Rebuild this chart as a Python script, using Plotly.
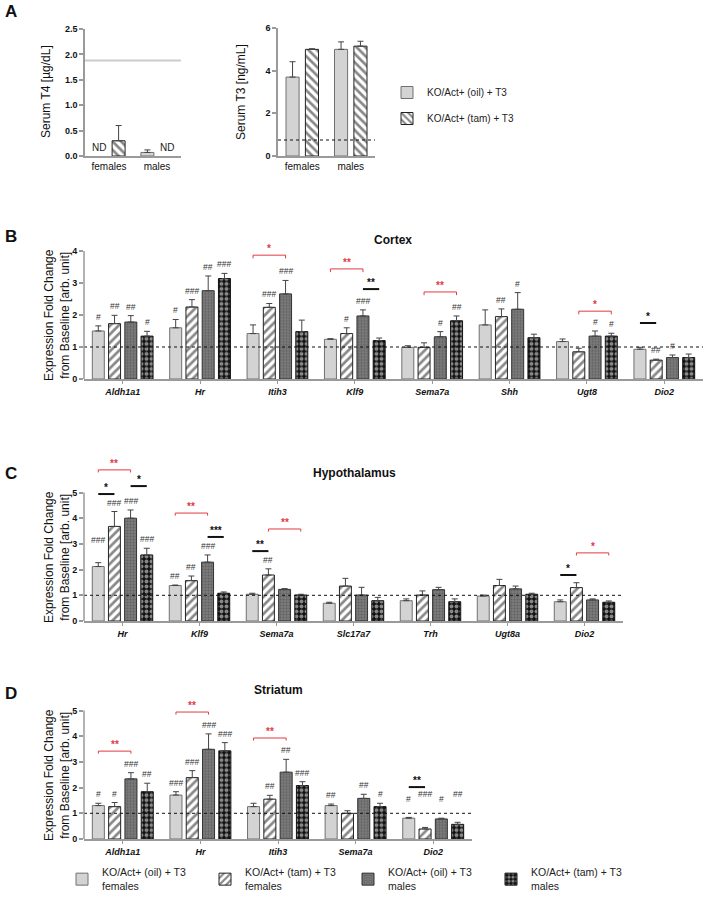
import plotly.graph_objects as go

W, H = 704, 900
FONT = "Arial, 'Liberation Sans', Helvetica, sans-serif"

# ---------------- Panel A data (serum hormones) ----------------
a_sex = ["females", "males"]
t4_oil = [None, 0.07]
t4_oil_sem = [0.0, 0.05]
t4_tam = [0.30, None]
t4_tam_sem = [0.30, 0.0]
t4_ref = 1.88
t3_oil = [3.70, 5.00]
t3_oil_sem = [0.72, 0.35]
t3_tam = [5.00, 5.15]
t3_tam_sem = [0.03, 0.23]
t3_ref = 0.75
a_names = ["KO/Act+ (oil) + T3", "KO/Act+ (tam) + T3"]

group_names = ["KO/Act+ (oil) + T3<br>females", "KO/Act+ (tam) + T3<br>females",
               "KO/Act+ (oil) + T3<br>males", "KO/Act+ (tam) + T3<br>males"]

# ---------------- Panel B: Cortex ----------------
b_genes = ["Aldh1a1", "Hr", "Itih3", "Klf9", "Sema7a", "Shh", "Ugt8", "Dio2"]
b_oil_f = [1.50, 1.60, 1.42, 1.24, 0.99, 1.69, 1.17, 0.93]
b_tam_f = [1.73, 2.25, 2.24, 1.42, 0.99, 1.95, 0.85, 0.59]
b_oil_m = [1.78, 2.76, 2.66, 1.97, 1.32, 2.18, 1.34, 0.67]
b_tam_m = [1.34, 3.14, 1.48, 1.20, 1.82, 1.29, 1.34, 0.67]
b_oil_f_sem = [0.16, 0.26, 0.27, 0.02, 0.05, 0.47, 0.08, 0.06]
b_tam_f_sem = [0.26, 0.23, 0.12, 0.18, 0.14, 0.24, 0.11, 0.03]
b_oil_m_sem = [0.20, 0.46, 0.42, 0.19, 0.16, 0.52, 0.16, 0.08]
b_tam_m_sem = [0.15, 0.16, 0.36, 0.08, 0.15, 0.11, 0.09, 0.11]
b_oil_f_sig = ["#", "#", "", "", "", "", "", ""]
b_tam_f_sig = ["##", "###", "###", "#", "", "##", "", "##"]
b_oil_m_sig = ["##", "##", "###", "###", "#", "#", "#", "#"]
b_tam_m_sig = ["#", "###", "", "", "##", "", "#", ""]
# (gene index, group i, group j, level, stars, red bracket?)
b_comparisons = [(2, 0, 2, 3.87, "*", True), (3, 0, 2, 3.44, "**", True),
                 (3, 2, 3, 2.81, "**", False), (4, 1, 3, 2.72, "**", True),
                 (6, 1, 3, 2.12, "*", True), (7, 0, 1, 1.75, "*", False)]

# ---------------- Panel C: Hypothalamus ----------------
c_genes = ["Hr", "Klf9", "Sema7a", "Slc17a7", "Trh", "Ugt8a", "Dio2"]
c_oil_f = [2.12, 1.38, 1.04, 0.69, 0.79, 0.97, 0.75]
c_tam_f = [3.68, 1.57, 1.79, 1.36, 1.01, 1.38, 1.30]
c_oil_m = [4.00, 2.29, 1.23, 1.01, 1.22, 1.25, 0.82]
c_tam_m = [2.57, 1.08, 1.01, 0.79, 0.75, 1.04, 0.73]
c_oil_f_sem = [0.15, 0.02, 0.04, 0.04, 0.07, 0.04, 0.07]
c_tam_f_sem = [0.58, 0.18, 0.24, 0.30, 0.16, 0.24, 0.19]
c_oil_m_sem = [0.32, 0.28, 0.03, 0.30, 0.09, 0.11, 0.04]
c_tam_m_sem = [0.26, 0.05, 0.03, 0.13, 0.11, 0.04, 0.05]
c_oil_f_sig = ["###", "##", "", "", "", "", ""]
c_tam_f_sig = ["###", "##", "##", "", "", "", ""]
c_oil_m_sig = ["###", "###", "", "", "", "", ""]
c_tam_m_sig = ["###", "", "", "", "", "", ""]
c_comparisons = [(0, 0, 1, 4.94, "*", False), (0, 2, 3, 5.25, "*", False),
                 (0, 0, 2, 5.88, "**", True), (1, 2, 3, 3.27, "***", False),
                 (1, 0, 2, 4.20, "**", True), (2, 0, 1, 2.72, "**", False),
                 (2, 1, 3, 3.58, "**", True), (6, 0, 1, 1.79, "*", False),
                 (6, 1, 3, 2.65, "*", True)]
c_sig_level = {(0, 0): 2.8}

# ---------------- Panel D: Striatum ----------------
d_genes = ["Aldh1a1", "Hr", "Itih3", "Sema7a", "Dio2"]
d_oil_f = [1.30, 1.71, 1.26, 1.30, 0.81]
d_tam_f = [1.26, 2.39, 1.55, 1.00, 0.39]
d_oil_m = [2.34, 3.49, 2.60, 1.58, 0.78]
d_tam_m = [1.84, 3.43, 2.08, 1.26, 0.57]
d_oil_f_sem = [0.09, 0.13, 0.13, 0.06, 0.03]
d_tam_f_sem = [0.16, 0.27, 0.15, 0.10, 0.06]
d_oil_m_sem = [0.24, 0.60, 0.50, 0.16, 0.03]
d_tam_m_sem = [0.33, 0.32, 0.15, 0.13, 0.08]
d_oil_f_sig = ["#", "###", "", "##", "#"]
d_tam_f_sig = ["#", "###", "##", "", "###"]
d_oil_m_sig = ["###", "###", "##", "##", "#"]
d_tam_m_sig = ["##", "###", "###", "#", "##"]
d_comparisons = [(0, 0, 2, 3.42, "**", True), (1, 0, 2, 4.94, "**", True),
                 (2, 0, 2, 3.93, "**", True), (4, 0, 1, 2.02, "**", False)]
d_sig_level = {(4, 0): 1.2, (4, 1): 1.4, (4, 2): 1.2, (4, 3): 1.4}

# ---------------- styling ----------------
OFFS = [-0.315, -0.105, 0.105, 0.315]
BW = 0.155
AXC = "#9a9a9a"
RED = "#e23a3f"
STYLES = [
    dict(color="#d3d3d3", line=dict(color="#707070", width=1)),
    dict(color="white", line=dict(color="#222", width=1),
         pattern=dict(shape="/", fgcolor="#111", bgcolor="white", size=6, solidity=0.45)),
    dict(color="#777", line=dict(color="#333", width=1),
         pattern=dict(shape=".", fgcolor="#444", bgcolor="#7b7b7b", size=3, solidity=0.35)),
    dict(color="#111", line=dict(color="#111", width=1),
         pattern=dict(shape=".", fgcolor="white", bgcolor="#111", size=5, solidity=0.5)),
]


def px_x(p):
    return p / W


def px_y(p):
    return 1 - p / H


fig = go.Figure()
annotations = []
shapes = []


def text(x, y, t, size=12, bold=False, angle=0, color="#111", xanchor="center", yanchor="middle"):
    annotations.append(dict(x=px_x(x), y=px_y(y), xref="paper", yref="paper", text=(f"<b>{t}</b>" if bold else t),
                            showarrow=False, textangle=angle, xanchor=xanchor, yanchor=yanchor,
                            font=dict(size=size, color=color, family=FONT)))


def panel(ax, genes, vals, sems, sigs, comps, sig_level, legend, yticks):
    xa, ya = "x" + ax, "y" + ax
    n = len(genes)
    for k in range(4):
        fig.add_trace(go.Bar(
            x=[g + OFFS[k] for g in range(n)], y=vals[k], width=BW, xaxis=xa, yaxis=ya,
            marker=STYLES[k], name=group_names[k], showlegend=legend, legend="legend",
            error_y=dict(type="data", array=sems[k], arrayminus=[0] * n, symmetric=False,
                         color="#444", thickness=1, width=3)))
        for g in range(n):
            if sigs[k][g]:
                yv = sig_level.get((g, k), vals[k][g] + sems[k][g])
                annotations.append(dict(x=g + OFFS[k], y=yv, xref=xa, yref=ya, text=sigs[k][g],
                                        showarrow=False, yanchor="bottom", yshift=2,
                                        font=dict(size=8.5, color="#333", family=FONT)))
    for g, i, j, lev, stars, red in comps:
        x0, x1 = g + OFFS[i], g + OFFS[j]
        if red:
            shapes.append(dict(type="path", xref=xa, yref=ya,
                               path=f"M{x0},{lev - 0.1} L{x0},{lev} L{x1},{lev} L{x1},{lev - 0.1}",
                               line=dict(color=RED, width=1)))
        else:
            shapes.append(dict(type="line", xref=xa, yref=ya, x0=x0, x1=x1, y0=lev, y1=lev,
                               line=dict(color="#111", width=2)))
        annotations.append(dict(x=(x0 + x1) / 2, y=lev, xref=xa, yref=ya, text=f"<b>{stars}</b>",
                                showarrow=False, yanchor="bottom", yshift=-1,
                                font=dict(size=10, color=RED if red else "#111", family=FONT)))
    # baseline dotted line
    shapes.append(dict(type="line", xref=xa + " domain", yref=ya, x0=0, x1=1, y0=1, y1=1,
                       line=dict(color="#111", width=1, dash="dot")))
    # y axis line up to top tick
    shapes.append(dict(type="line", xref=xa + " domain", yref=ya, x0=0, x1=0, y0=0, y1=yticks[-1],
                       line=dict(color=AXC, width=1.5)))


panel("3", b_genes, [b_oil_f, b_tam_f, b_oil_m, b_tam_m],
      [b_oil_f_sem, b_tam_f_sem, b_oil_m_sem, b_tam_m_sem],
      [b_oil_f_sig, b_tam_f_sig, b_oil_m_sig, b_tam_m_sig], b_comparisons, {}, True, [0, 1, 2, 3, 4])
panel("4", c_genes, [c_oil_f, c_tam_f, c_oil_m, c_tam_m],
      [c_oil_f_sem, c_tam_f_sem, c_oil_m_sem, c_tam_m_sem],
      [c_oil_f_sig, c_tam_f_sig, c_oil_m_sig, c_tam_m_sig], c_comparisons, c_sig_level, False,
      [0, 1, 2, 3, 4, 5])
panel("5", d_genes, [d_oil_f, d_tam_f, d_oil_m, d_tam_m],
      [d_oil_f_sem, d_tam_f_sem, d_oil_m_sem, d_tam_m_sem],
      [d_oil_f_sig, d_tam_f_sig, d_oil_m_sig, d_tam_m_sig], d_comparisons, d_sig_level, False,
      [0, 1, 2, 3, 4, 5])

# ---------------- Panel A traces ----------------
A_STYLES = [
    dict(color="#d3d3d3", line=dict(color="#707070", width=1)),
    dict(color="white", line=dict(color="#222", width=1),
         pattern=dict(shape="\\", fgcolor="#111", bgcolor="white", size=6, solidity=0.45)),
]
AOFF = [-0.2, 0.2]
ABW = 0.27
for k, (v, s) in enumerate([(t4_oil, t4_oil_sem), (t4_tam, t4_tam_sem)]):
    fig.add_trace(go.Bar(x=[g + AOFF[k] for g in range(2)], y=v, width=ABW, xaxis="x", yaxis="y",
                         marker=A_STYLES[k], showlegend=False,
                         error_y=dict(type="data", array=s, arrayminus=[0, 0], symmetric=False,
                                      color="#444", thickness=1, width=3)))
for k, (v, s) in enumerate([(t3_oil, t3_oil_sem), (t3_tam, t3_tam_sem)]):
    fig.add_trace(go.Bar(x=[g + AOFF[k] for g in range(2)], y=v, width=ABW, xaxis="x2", yaxis="y2",
                         marker=A_STYLES[k], name=a_names[k], showlegend=True, legend="legend2",
                         legendgroup=f"a{k}",
                         error_y=dict(type="data", array=s, arrayminus=[0, 0], symmetric=False,
                                      color="#444", thickness=1, width=3)))
# ND labels where no value
for k, v in enumerate([t4_oil, t4_tam]):
    for g in range(2):
        if v[g] is None:
            annotations.append(dict(x=g + AOFF[k], y=0, xref="x", yref="y", text="ND", showarrow=False,
                                    yanchor="bottom", yshift=1, font=dict(size=10, color="#222", family=FONT)))
shapes.append(dict(type="line", xref="x domain", yref="y", x0=0, x1=1, y0=t4_ref, y1=t4_ref,
                   line=dict(color="#cccccc", width=2)))
shapes.append(dict(type="line", xref="x2 domain", yref="y2", x0=0, x1=1, y0=t3_ref, y1=t3_ref,
                   line=dict(color="#111", width=1, dash="dot")))

# ---------------- axes ----------------
tickfont = dict(size=9, color="#111", family=FONT, weight="bold")


def xaxis(dom, n, labels, italic=True):
    return dict(domain=[px_x(dom[0]), px_x(dom[1])], range=[-0.5, n - 0.5], tickmode="array",
                tickvals=list(range(n)),
                ticktext=[f"<b><i>{t}</i></b>" for t in labels] if italic else labels,
                showline=True, linecolor=AXC, linewidth=1.5, ticks="outside" if italic else "",
                ticklen=3, tickcolor=AXC, showgrid=False, zeroline=False, fixedrange=True,
                tickfont=dict(size=9 if italic else 10, color="#111", family=FONT))


def yaxis(bottom, top, rng, ticks, anchor, showline=False, fmt=None):
    return dict(domain=[px_y(bottom), px_y(top)], range=rng, tickmode="array", tickvals=ticks,
                ticktext=[(fmt.format(t) if fmt else str(t)) for t in ticks],
                showline=showline, linecolor=AXC, linewidth=1.5, ticks="outside", ticklen=4,
                tickcolor=AXC, tickwidth=1.5, showgrid=False, zeroline=False, anchor=anchor,
                fixedrange=True, tickfont=tickfont)


layout_axes = dict(
    xaxis=dict(xaxis((85, 181), 2, a_sex, italic=False), anchor="y"),
    yaxis=yaxis(156, 29, [0, 2.5001], [0, 0.5, 1.0, 1.5, 2.0, 2.5], "x", True, "{:.1f}"),
    xaxis2=dict(xaxis((278, 375), 2, a_sex, italic=False), anchor="y2"),
    yaxis2=yaxis(156, 28, [0, 6.001], [0, 2, 4, 6], "x2", True),
    xaxis3=dict(xaxis((84, 703), len(b_genes), b_genes), anchor="y3"),
    yaxis3=yaxis(379, 379 - 4.3 * 32, [0, 4.3], [0, 1, 2, 3, 4], "x3"),
    xaxis4=dict(xaxis((84, 623), len(c_genes), c_genes), anchor="y4"),
    yaxis4=yaxis(621, 621 - 6.5 * 25.7, [0, 6.5], [0, 1, 2, 3, 4, 5], "x4"),
    xaxis5=dict(xaxis((84, 472), len(d_genes), d_genes), anchor="y5"),
    yaxis5=yaxis(839, 839 - 5.5 * 25.7, [0, 5.5], [0, 1, 2, 3, 4, 5], "x5"),
)

# ---------------- texts ----------------
for lbl, y in [("A", 12), ("B", 237), ("C", 473), ("D", 693)]:
    text(3, y, lbl, size=17, bold=True, xanchor="left")
text(393, 240, "Cortex", size=12, bold=True)
text(354, 473, "Hypothalamus", size=12, bold=True)
text(278, 690, "Striatum", size=12, bold=True)
text(46, 92, "Serum T4 [µg/dL]", size=12, angle=-90)
text(241, 92, "Serum T3 [ng/mL]", size=12, angle=-90)
for yc in [315, 557, 775]:
    text(57, yc, "Expression Fold Change<br>from Baseline [arb. unit]", size=12, angle=-90)

fig.update_layout(
    width=W, height=H, margin=dict(l=0, r=0, t=0, b=0, autoexpand=False),
    paper_bgcolor="white", plot_bgcolor="rgba(0,0,0,0)",
    font=dict(family=FONT, color="#111"),
    barmode="overlay",
    annotations=annotations, shapes=shapes,
    legend=dict(orientation="h", x=px_x(62), y=0, xanchor="left", yanchor="bottom",
                font=dict(size=10.5, family=FONT, color="#222"), entrywidth=98, entrywidthmode="pixels",
                bgcolor="rgba(0,0,0,0)", traceorder="normal"),
    legend2=dict(orientation="v", x=px_x(387), y=px_y(78), xanchor="left", yanchor="top",
                 font=dict(size=10, family=FONT, color="#222"), tracegroupgap=7,
                 bgcolor="rgba(0,0,0,0)"),
    **layout_axes,
)

fig.write_html("out.html", config={"displayModeBar": False},
               post_script="document.body.style.margin='0px';")
